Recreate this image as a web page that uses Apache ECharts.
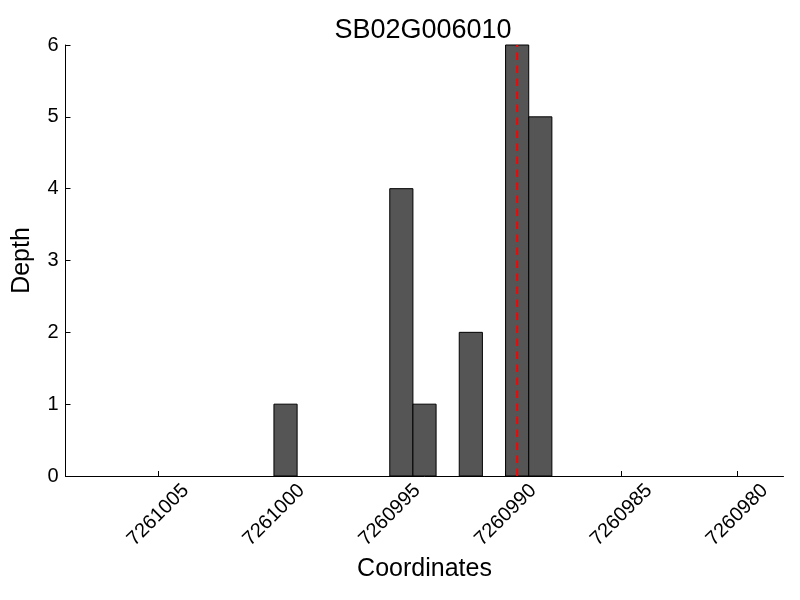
<!DOCTYPE html>
<html><head><meta charset="utf-8">
<script src="https://cdn.jsdelivr.net/npm/echarts@6/dist/echarts.min.js"></script>
<style>html,body{margin:0;padding:0;background:#fff}#c{width:800px;height:600px}</style>
</head><body><div id="c"></div>
<script>
// bin start coordinates (each bar spans [start, start+1])
const binStarts = [7260999, 7260994, 7260993, 7260991, 7260989, 7260988];
const depths = [1, 4, 1, 2, 6, 5];
const xTicks = [7261005, 7261000, 7260995, 7260990, 7260985, 7260980];
const yTicks = [0, 1, 2, 3, 4, 5, 6];
const markerPos = 7260989.5;
const title = 'SB02G006010';

const FONT = 'Liberation Sans';
const chart = echarts.init(document.getElementById('c'), null, {renderer: 'canvas'});
chart.setOption({
  animation: false,
  backgroundColor: '#fff',
  title: {text: title, left: 418, textAlign: 'center', top: 12,
    textStyle: {fontFamily: FONT, fontSize: 27, fontWeight: 'normal', color: '#000'}},
  grid: {left: 65.5, right: 16.5, top: 45, bottom: 124},
  xAxis: {
    type: 'value', inverse: true, min: 7260978, max: 7261009,
    name: 'Coordinates', nameLocation: 'middle', nameGap: 78,
    nameTextStyle: {fontFamily: FONT, fontSize: 25, color: '#000'},
    axisLine: {show: true, lineStyle: {color: '#000', width: 1}},
    axisTick: {show: true, inside: true, length: 5, customValues: xTicks, lineStyle: {color: '#000'}},
    axisLabel: {customValues: xTicks, rotate: 45, margin: 39, align: 'center', verticalAlign: 'middle',
      fontFamily: FONT, fontSize: 20, color: '#000', formatter: v => String(v)},
    splitLine: {show: false}
  },
  yAxis: {
    type: 'value', min: 0, max: 6, interval: 1,
    name: 'Depth', nameLocation: 'middle', nameGap: 31,
    nameTextStyle: {fontFamily: FONT, fontSize: 25, color: '#000'},
    axisLine: {show: true, lineStyle: {color: '#000', width: 1}},
    axisTick: {show: true, inside: true, length: 5, customValues: yTicks, lineStyle: {color: '#000'}},
    axisLabel: {customValues: yTicks, margin: 7, fontFamily: FONT, fontSize: 20, color: '#000'},
    splitLine: {show: false}
  },
  series: [
    {
      type: 'custom',
      data: binStarts.map((s, i) => [s, depths[i]]),
      encode: {x: 0, y: 1},
      renderItem: function (params, api) {
        const s = api.value(0), v = api.value(1);
        const p0 = api.coord([s, 0]);
        const p1 = api.coord([s + 1, v]);
        const x = Math.min(p0[0], p1[0]);
        return {
          type: 'rect',
          shape: {x: x, y: p1[1], width: Math.abs(p1[0] - p0[0]), height: p0[1] - p1[1]},
          style: {fill: '#555555', stroke: '#000', lineWidth: 1}
        };
      }
    },
    {
      type: 'line',
      data: [[markerPos, 0], [markerPos, 6]],
      symbol: 'none',
      lineStyle: {color: '#ff0000', width: 2, type: [7.5, 5.5]},
      z: 5
    }
  ]
});
</script></body></html>
